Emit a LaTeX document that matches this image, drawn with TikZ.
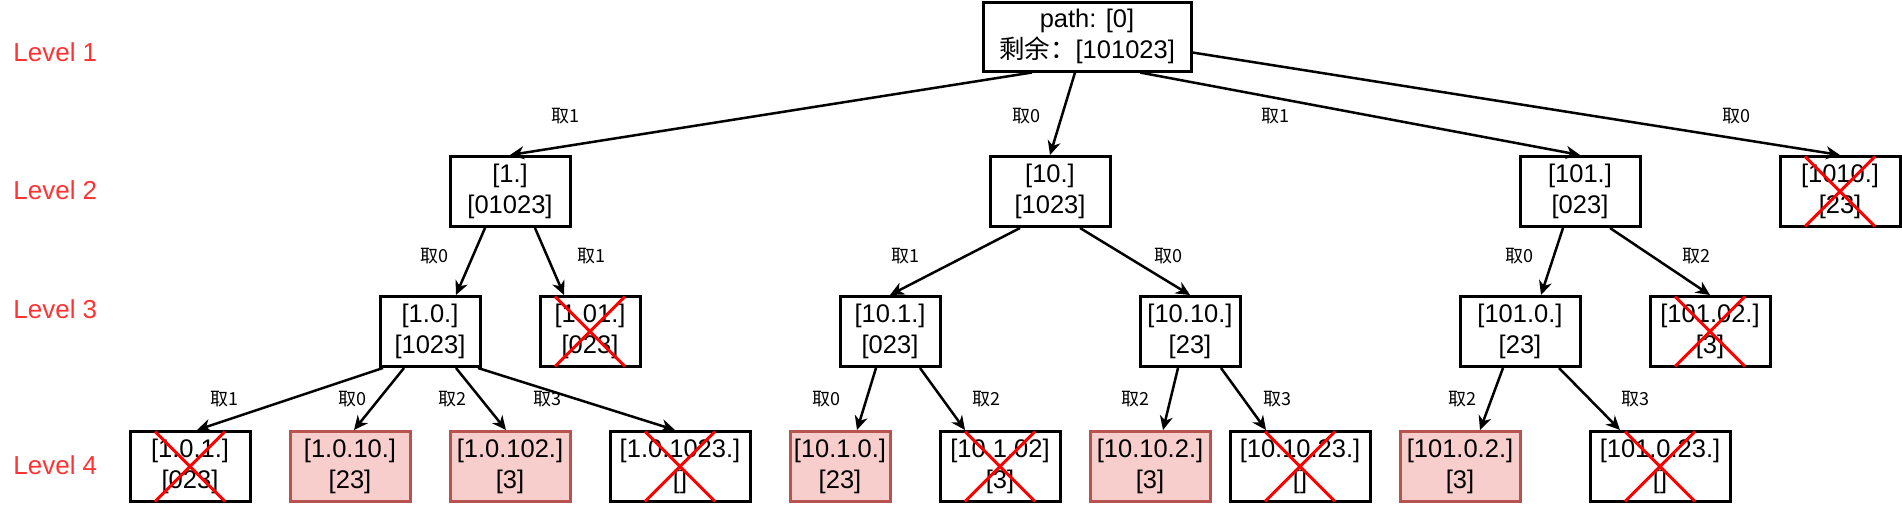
\documentclass[tikz,border=0pt]{standalone}
\usepackage{fontspec}
\setmainfont{Liberation Sans}
\newfontfamily\cjk{Noto Sans CJK SC}
\usetikzlibrary{arrows.meta, positioning, calc}
\definecolor{levelred}{HTML}{FF3333}
\definecolor{hitfill}{HTML}{F8CECC}
\definecolor{hitdraw}{HTML}{B85450}

\begin{document}
\begin{tikzpicture}[
    x=0.5pt, y=-0.5pt,
    state/.style={rectangle, draw=black, line width=1.5pt, minimum width=60pt, minimum height=35pt, inner sep=0pt, align=center, font=\fontsize{12.75}{15.5}\selectfont},
    narrow/.style={minimum width=50pt},
    wide/.style={minimum width=70pt},
    hit/.style={fill=hitfill, draw=hitdraw},
    choice/.style={font=\cjk\fontsize{9}{11}\selectfont},
    level/.style={anchor=west, inner sep=0pt, text=levelred, font=\fontsize{13}{15}\selectfont},
    arrow/.style={line width=1.25pt, -{Stealth[length=7pt, width=6.5pt, inset=2.2pt]}},
    xmark/.style={red, line width=1.5pt}
]
\useasboundingbox (0,0) rectangle (1902,505);

% Level names
\node[level] (lv1) at (13,52) {Level 1};
\node[level] (lv2) at (13,190) {Level 2};
\node[level] (lv3) at (13,309) {Level 3};
\node[level] (lv4) at (13,465) {Level 4};

% Root
\node[state, minimum width=104pt, minimum height=34.5pt] (root) at (1087,36.5) {path: [0]\\{\cjk 剩余：}[101023]};

% Level 2
\node[state] (p1) at (510,191.5) {[1.]\\{}[01023]};
\node[state] (p10) at (1050,191.5) {[10.]\\{}[1023]};
\node[state] (p101) at (1580,191.5) {[101.]\\{}[023]};
\node[state] (p1010) at (1840,191.5) {[1010.]\\{}[23]};

% Level 3
\node[state, narrow] (p1_0) at (430,331.5) {[1.0.]\\{}[1023]};
\node[state, narrow] (p1_01) at (590,331.5) {[1.01.]\\{}[023]};
\node[state, narrow] (p10_1) at (890,331.5) {[10.1.]\\{}[023]};
\node[state, narrow] (p10_10) at (1190,331.5) {[10.10.]\\{}[23]};
\node[state] (p101_0) at (1520,331.5) {[101.0.]\\{}[23]};
\node[state] (p101_02) at (1710,331.5) {[101.02.]\\{}[3]};

% Level 4
\node[state] (p1_0_1) at (190,466.5) {[1.0.1.]\\{}[023]};
\node[state, hit] (p1_0_10) at (350,466.5) {[1.0.10.]\\{}[23]};
\node[state, hit] (p1_0_102) at (510,466.5) {[1.0.102.]\\{}[3]};
\node[state, wide] (p1_0_1023) at (680,466.5) {[1.0.1023.]\\{}[]};
\node[state, hit, narrow] (p10_1_0) at (840,466.5) {[10.1.0.]\\{}[23]};
\node[state] (p10_1_02) at (1000,466.5) {[10.1.02]\\{}[3]};
\node[state, hit] (p10_10_2) at (1150,466.5) {[10.10.2.]\\{}[3]};
\node[state, wide] (p10_10_23) at (1300,466.5) {[10.10.23.]\\{}[]};
\node[state, hit] (p101_0_2) at (1460,466.5) {[101.0.2.]\\{}[3]};
\node[state, wide] (p101_0_23) at (1660,466.5) {[101.0.23.]\\{}[]};

% Arrows
\draw[arrow] ($(root.south)+(-55,0)$) -- (p1.north);
\draw[arrow] ($(root.south)+(-12,0)$) -- (p10.north);
\draw[arrow] ($(root.south)+(53,0)$) -- (p101.north);
\draw[arrow] ($(root.east)+(0,16)$) -- (p1010.north);

\draw[arrow] ($(p1.south)+(-25,0)$) -- ($(p1_0.north)+(26,0)$);
\draw[arrow] ($(p1.south)+(25,0)$) -- ($(p1_01.north)+(-26,0)$);
\draw[arrow] ($(p10.south)+(-30,0)$) -- (p10_1.north);
\draw[arrow] ($(p10.south)+(30,0)$) -- (p10_10.north);
\draw[arrow] ($(p101.south)+(-17,0)$) -- ($(p101_0.north)+(21,0)$);
\draw[arrow] ($(p101.south)+(30,0)$) -- (p101_02.north);

\draw[arrow] ($(p1_0.south)+(-47,0)$) -- ($(p1_0_1.north)+(7,0)$);
\draw[arrow] ($(p1_0.south)+(-26,0)$) -- ($(p1_0_10.north)+(4,0)$);
\draw[arrow] ($(p1_0.south)+(26,0)$) -- ($(p1_0_102.north)+(-4,0)$);
\draw[arrow] ($(p1_0.south)+(48,0)$) -- ($(p1_0_1023.north)+(-5,0)$);
\draw[arrow] ($(p10_1.south)+(-14,0)$) -- ($(p10_1_0.north)+(17,0)$);
\draw[arrow] ($(p10_1.south)+(30,0)$) -- ($(p10_1_02.north)+(-35,0)$);
\draw[arrow] ($(p10_10.south)+(-12,0)$) -- ($(p10_10_2.north)+(13,0)$);
\draw[arrow] ($(p10_10.south)+(31,0)$) -- ($(p10_10_23.north)+(-34,0)$);
\draw[arrow] ($(p101_0.south)+(-17,0)$) -- ($(p101_0_2.north)+(20,0)$);
\draw[arrow] ($(p101_0.south)+(39,0)$) -- ($(p101_0_23.north)+(-40,0)$);

% Choices
\node[choice] (c1) at (565,116) {取1};
\node[choice] (c10) at (1026,116) {取0};
\node[choice] (c101) at (1275,116) {取1};
\node[choice] (c1010) at (1736,116) {取0};
\node[choice] (c1_0) at (434,256) {取0};
\node[choice] (c1_01) at (591,256) {取1};
\node[choice] (c10_1) at (905,256) {取1};
\node[choice] (c10_10) at (1168,256) {取0};
\node[choice] (c101_0) at (1519,256) {取0};
\node[choice] (c101_02) at (1696,256) {取2};
\node[choice] (c1_0_1) at (224,399) {取1};
\node[choice] (c1_0_10) at (352,399) {取0};
\node[choice] (c1_0_102) at (452,399) {取2};
\node[choice] (c1_0_1023) at (547,399) {取3};
\node[choice] (c10_1_0) at (826,399) {取0};
\node[choice] (c10_1_02) at (986,399) {取2};
\node[choice] (c10_10_2) at (1135,399) {取2};
\node[choice] (c10_10_23) at (1277,399) {取3};
\node[choice] (c101_0_2) at (1462,399) {取2};
\node[choice] (c101_0_23) at (1635,399) {取3};

% Pruned branches
\foreach \n in {p1010, p1_01, p101_02, p1_0_1, p1_0_1023, p10_1_02, p10_10_23, p101_0_23}
  \draw[xmark] ($(\n.center)+(-35,-35)$) -- ($(\n.center)+(35,35)$)
               ($(\n.center)+(35,-35)$) -- ($(\n.center)+(-35,35)$);

\end{tikzpicture}
\end{document}
